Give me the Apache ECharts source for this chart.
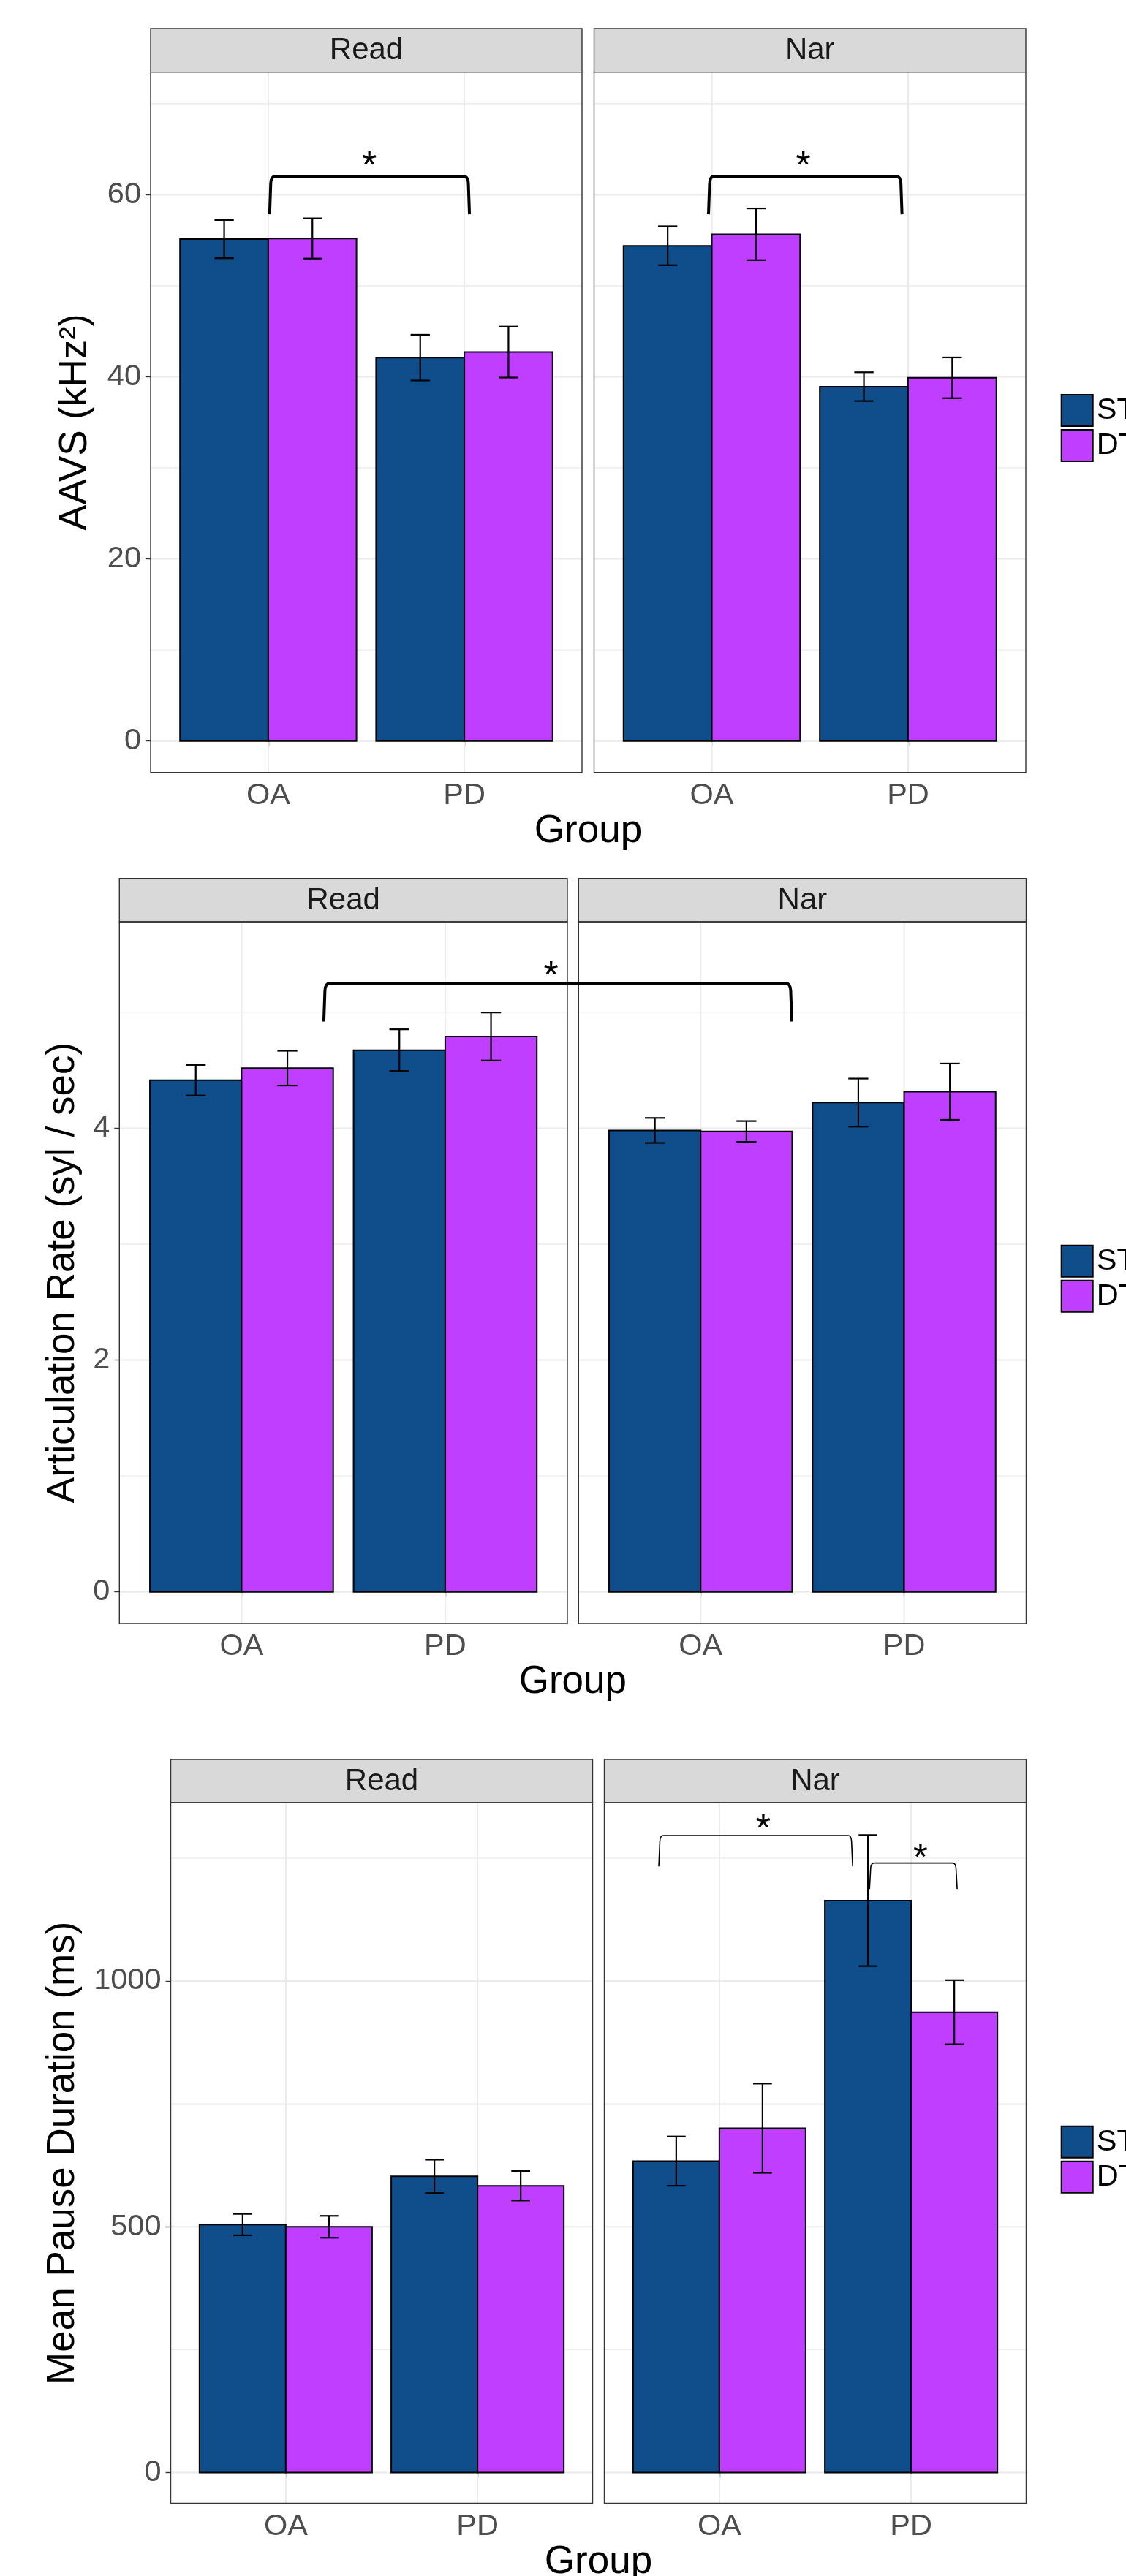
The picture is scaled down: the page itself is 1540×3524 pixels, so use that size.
<!DOCTYPE html>
<html>
<head>
<meta charset="utf-8">
<script src="https://cdn.jsdelivr.net/npm/echarts@6/dist/echarts.min.js"></script>
<style>html,body{margin:0;padding:0;background:#fff}#c{width:1540px;height:3524px}</style>
</head>
<body>
<div id="c"></div>
<script>
// ---------------- DATA ----------------
const categories = ['OA', 'PD'];
const facets = ['Read', 'Nar'];
const conditions = ['ST', 'DT'];

// Figure 1: AAVS (kHz²)
const aavsReadST = [55.13, 42.11];
const aavsReadDT = [55.20, 42.72];
const aavsNarST  = [54.40, 38.92];
const aavsNarDT  = [55.66, 39.89];
const aavsReadSeST = [2.10, 2.51];
const aavsReadSeDT = [2.21, 2.80];
const aavsNarSeST  = [2.14, 1.58];
const aavsNarSeDT  = [2.84, 2.24];
const aavsTicks = [0, 20, 40, 60];
const aavsMinorTicks = [10, 30, 50, 70];
// [facetFrom, xFrom, facetTo, xTo, yTop, yLegEnd, starX, starY]
const aavsBrackets = [
  [0, 1.007, 0, 2.026, 62.04, 57.85, 1.515, 63.83],
  [1, 0.983, 1, 1.969, 62.04, 57.85, 1.466, 63.83]
];

// Figure 2: Articulation Rate (syl / sec)
const artReadST = [4.414, 4.673];
const artReadDT = [4.518, 4.791];
const artNarST  = [3.981, 4.221];
const artNarDT  = [3.972, 4.315];
const artReadSeST = [0.132, 0.180];
const artReadSeDT = [0.150, 0.207];
const artNarSeST  = [0.108, 0.207];
const artNarSeDT  = [0.090, 0.243];
const artTicks = [0, 2, 4];
const artMinorTicks = [1, 3, 5];
const artBrackets = [
  [0, 1.404, 1, 1.447, 5.25, 4.92, 2.52, 5.365]
];

// Figure 3: Mean Pause Duration (ms)
const mpdReadST = [504.4, 602.5];
const mpdReadDT = [500.0, 583.4];
const mpdNarST  = [633.6, 1163.6];
const mpdNarDT  = [700.5, 936.5];
const mpdReadSeST = [21.8, 34.0];
const mpdReadSeDT = [22.3, 30.0];
const mpdNarSeST  = [50.1, 133.3];
const mpdNarSeDT  = [90.8, 65.3];
const mpdTicks = [0, 500, 1000];
const mpdMinorTicks = [250, 750, 1250];
const mpdBrackets = [
  [1, 0.684, 1, 1.695, 1296, 1233, 1.229, 1322],
  [1, 1.783, 1, 2.240, 1240, 1187, 2.049, 1261.7]
];

// ---------------- STYLE / LAYOUT ----------------
const FONT = "'Liberation Sans', Arial, Helvetica, sans-serif";
const COLORS = { ST: '#104E8B', DT: '#BF3EFF' };
const GRID_COLOR = '#EBEBEB';
const BORDER = '#333333';

const figures = [
  {
    yTitle: 'AAVS (kHz²)', ymin: -3.45, ymax: 73.47,
    ticks: aavsTicks, minor: aavsMinorTicks,
    panels: [{ left: 206, width: 590 }, { left: 812.5, width: 590.5 }],
    stripTop: 39, top: 98.6, bottom: 1056.7,
    means: [[aavsReadST, aavsReadDT], [aavsNarST, aavsNarDT]],
    ses: [[aavsReadSeST, aavsReadSeDT], [aavsNarSeST, aavsNarSeDT]],
    brackets: aavsBrackets, bracketWidth: 4,
    legendTop: 539, yTitleX: 103, groupY: 1137
  },
  {
    yTitle: 'Articulation Rate (syl / sec)', ymin: -0.273, ymax: 5.781,
    ticks: artTicks, minor: artMinorTicks,
    panels: [{ left: 163.3, width: 612.7 }, { left: 791.3, width: 612.2 }],
    stripTop: 1201.7, top: 1261, bottom: 2221,
    means: [[artReadST, artReadDT], [artNarST, artNarDT]],
    ses: [[artReadSeST, artReadSeDT], [artNarSeST, artNarSeDT]],
    brackets: artBrackets, bracketWidth: 4,
    legendTop: 1702.7, yTitleX: 86, groupY: 2301
  },
  {
    yTitle: 'Mean Pause Duration (ms)', ymin: -62.45, ymax: 1362.85,
    ticks: mpdTicks, minor: mpdMinorTicks,
    panels: [{ left: 233.5, width: 577 }, { left: 826.5, width: 577 }],
    stripTop: 2407, top: 2466, bottom: 3424.5,
    means: [[mpdReadST, mpdReadDT], [mpdNarST, mpdNarDT]],
    ses: [[mpdReadSeST, mpdReadSeDT], [mpdNarSeST, mpdNarSeDT]],
    brackets: mpdBrackets, bracketWidth: 1.6,
    legendTop: 2907.8, yTitleX: 86, groupY: 3505
  }
];

const DODGE = 0.225;
const BAR_HALF = 0.225;
const CAP_HALF = 0.049;

function txt(style) {
  if (style.align) style.textAlign = style.align;
  if (style.verticalAlign) style.textVerticalAlign = style.verticalAlign;
  return style;
}

function gridRender(params, api) {
  const cs = params.coordSys;
  const kind = api.value(2);
  if (kind === 2) {
    const x = api.coord([api.value(0), 0])[0];
    return { type: 'line', silent: true,
      shape: { x1: x, y1: cs.y, x2: x, y2: cs.y + cs.height },
      style: { stroke: GRID_COLOR, lineWidth: 2 } };
  }
  const y = api.coord([1, api.value(1)])[1];
  return { type: 'line', silent: true,
    shape: { x1: cs.x, y1: y, x2: cs.x + cs.width, y2: y },
    style: { stroke: GRID_COLOR, lineWidth: kind === 0 ? 2 : 1.4 } };
}

function barRender(params, api) {
  const x = api.value(0), v = api.value(1);
  const p0 = api.coord([x - BAR_HALF, 0]);
  const p1 = api.coord([x + BAR_HALF, v]);
  return { type: 'rect',
    shape: { x: p0[0], y: p1[1], width: p1[0] - p0[0], height: p0[1] - p1[1] },
    style: { fill: api.visual('color'), stroke: '#000', lineWidth: 2 } };
}

function errRender(params, api) {
  const x = api.value(0), m = api.value(1), s = api.value(2);
  const t = api.coord([x, m + s]), b = api.coord([x, m - s]);
  const l = api.coord([x - CAP_HALF, m])[0], r = api.coord([x + CAP_HALF, m])[0];
  const st = { stroke: '#000', lineWidth: 2.2 };
  return { type: 'group', children: [
    { type: 'line', shape: { x1: t[0], y1: t[1], x2: b[0], y2: b[1] }, style: st },
    { type: 'line', shape: { x1: l, y1: t[1], x2: r, y2: t[1] }, style: st },
    { type: 'line', shape: { x1: l, y1: b[1], x2: r, y2: b[1] }, style: st }
  ] };
}

function makeBracketRender(fig) {
  return function (params, api) {
    const fFrom = api.value(0), x1 = api.value(1), fTo = api.value(2), x2 = api.value(3);
    const yT = api.value(4), yB = api.value(5), sx = api.value(6), sy = api.value(7);
    const shift = fig.panels[fTo].left - fig.panels[fFrom].left;
    const a = api.coord([x1, yB]);
    const top = api.coord([x1, yT])[1];
    const c = api.coord([x2, yB]);
    const xl = a[0], xr = c[0] + shift, yb = a[1];
    const w = fig.bracketWidth;
    const dx = w > 2 ? 8 : 6, dy = w > 2 ? 10 : 8;
    const d = 'M' + xl + ',' + yb +
      ' L' + (xl + 1.5) + ',' + (top + dy) +
      ' Q' + (xl + 2) + ',' + top + ' ' + (xl + dx) + ',' + top +
      ' L' + (xr - dx) + ',' + top +
      ' Q' + (xr - 2) + ',' + top + ' ' + (xr - 1.5) + ',' + (top + dy) +
      ' L' + xr + ',' + yb;
    const sp = api.coord([sx, sy]);
    return { type: 'group', children: [
      { type: 'path', shape: { pathData: d }, style: { fill: null, stroke: '#000', lineWidth: w } },
      { type: 'text', x: sp[0], y: sp[1] + 10,
        style: txt({ text: '*', fontSize: 52, fontFamily: FONT, fill: '#000', align: 'center', verticalAlign: 'middle' }) }
    ] };
  };
}

const grids = [], xAxes = [], yAxes = [], series = [], graphics = [], legends = [];

figures.forEach(function (fig) {
  const gIdx = [];
  fig.panels.forEach(function (pn, pi) {
    const gi = grids.length;
    gIdx.push(gi);
    const isLeft = pi === 0;
    grids.push({ left: pn.left, top: fig.top, width: pn.width, height: fig.bottom - fig.top,
      containLabel: false, outerBoundsMode: 'none', show: false });
    xAxes.push({
      gridIndex: gi, type: 'value', min: 0.4, max: 2.6,
      axisLine: { show: false }, splitLine: { show: false },
      axisTick: { show: true, customValues: [1, 2], length: 7, lineStyle: { color: BORDER, width: 1.4 } },
      axisLabel: { show: true, customValues: [1, 2], margin: 11, fontSize: 41.5, color: '#4D4D4D', fontFamily: FONT,
        formatter: function (v) { return categories[Math.round(v) - 1]; } }
    });
    yAxes.push({
      gridIndex: gi, type: 'value', min: fig.ymin, max: fig.ymax,
      axisLine: { show: false }, splitLine: { show: false },
      axisTick: { show: isLeft, customValues: fig.ticks, length: 7, lineStyle: { color: BORDER, width: 1.4 } },
      axisLabel: { show: isLeft, customValues: fig.ticks, margin: 13, fontSize: 41.5, color: '#4D4D4D', fontFamily: FONT,
        formatter: function (v) { return String(v); } }
    });

    const gl = [];
    fig.ticks.forEach(function (v) { gl.push([1, v, 0]); });
    fig.minor.forEach(function (v) { gl.push([1, v, 1]); });
    categories.forEach(function (c, i) { gl.push([i + 1, 0, 2]); });
    series.push({ type: 'custom', xAxisIndex: gi, yAxisIndex: gi, z: 1, silent: true, data: gl, renderItem: gridRender });

    conditions.forEach(function (cond, ci) {
      const off = ci === 0 ? -DODGE : DODGE;
      series.push({
        type: 'custom', name: cond, xAxisIndex: gi, yAxisIndex: gi, z: 2, silent: true,
        itemStyle: { color: COLORS[cond] },
        data: categories.map(function (c, i) { return [i + 1 + off, fig.means[pi][ci][i]]; }),
        renderItem: barRender
      });
    });

    const eb = [];
    conditions.forEach(function (cond, ci) {
      const off = ci === 0 ? -DODGE : DODGE;
      categories.forEach(function (c, i) { eb.push([i + 1 + off, fig.means[pi][ci][i], fig.ses[pi][ci][i]]); });
    });
    series.push({ type: 'custom', xAxisIndex: gi, yAxisIndex: gi, z: 3, silent: true, data: eb, renderItem: errRender });

    graphics.push({ type: 'rect', z: 100, silent: true,
      shape: { x: pn.left, y: fig.stripTop, width: pn.width, height: fig.top - fig.stripTop },
      style: { fill: '#D9D9D9', stroke: BORDER, lineWidth: 1.4 } });
    graphics.push({ type: 'text', z: 101, silent: true,
      x: pn.left + pn.width / 2, y: (fig.stripTop + fig.top) / 2 + 0.8,
      style: txt({ text: facets[pi], fontSize: 42, fontFamily: FONT, fill: '#1A1A1A', align: 'center', verticalAlign: 'middle' }) });
    graphics.push({ type: 'rect', z: 100, silent: true,
      shape: { x: pn.left, y: fig.top, width: pn.width, height: fig.bottom - fig.top },
      style: { fill: null, stroke: BORDER, lineWidth: 1.4 } });
  });

  fig.brackets.forEach(function (b) {
    const gi = gIdx[b[0]];
    series.push({ type: 'custom', xAxisIndex: gi, yAxisIndex: gi, z: 110, clip: false, silent: true,
      data: [b], renderItem: makeBracketRender(fig) });
  });

  graphics.push({ type: 'text', z: 101, silent: true, x: fig.yTitleX, y: (fig.top + fig.bottom) / 2,
    rotation: Math.PI / 2,
    style: txt({ text: fig.yTitle, fontSize: 53, fontFamily: FONT, fill: '#000', align: 'center', verticalAlign: 'middle' }) });
  const pL = fig.panels[0].left, pR = fig.panels[1].left + fig.panels[1].width;
  graphics.push({ type: 'text', z: 101, silent: true, x: (pL + pR) / 2, y: fig.groupY,
    style: txt({ text: 'Group', fontSize: 53, fontFamily: FONT, fill: '#000', align: 'center', verticalAlign: 'middle' }) });

  legends.push({
    orient: 'vertical', left: 1450.7, top: fig.legendTop, padding: 0,
    itemWidth: 43, itemHeight: 43, itemGap: 3, icon: 'rect', selectedMode: false,
    data: conditions.slice(),
    itemStyle: { borderColor: '#000', borderWidth: 2 },
    textStyle: { fontSize: 41.5, color: '#000', fontFamily: FONT }
  });
});

const chart = echarts.init(document.getElementById('c'), null, { renderer: 'canvas', width: 1540, height: 3524 });
chart.setOption({
  animation: false,
  backgroundColor: '#ffffff',
  textStyle: { fontFamily: FONT },
  grid: grids,
  xAxis: xAxes,
  yAxis: yAxes,
  legend: legends,
  series: series,
  graphic: { elements: graphics }
});
</script>
</body>
</html>
